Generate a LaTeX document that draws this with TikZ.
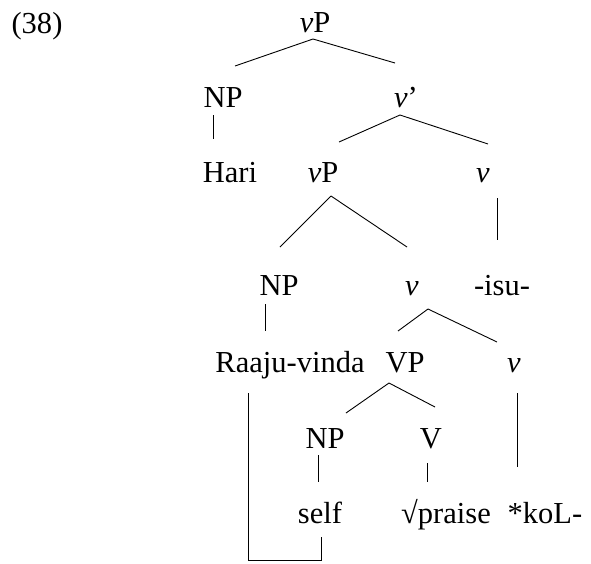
\documentclass[tikz,border=0pt]{standalone}
\usepackage{fontspec}
\setmainfont{Liberation Serif}
\begin{document}
\begin{tikzpicture}[
    x=1pt, y=1pt,
    etiqueta/.style={anchor=base, inner sep=0pt, font=\fontsize{30.5}{36}\selectfont},
    rama/.style={line width=0.9pt}
  ]
    \useasboundingbox (0,0) rectangle (591,-563);

    \node[etiqueta] (ejemplo) at (37,-33) {(38)};
    \node[etiqueta] (vpraiz) at (315,-32) {\textit{v}P};
    \node[etiqueta] (npsujeto) at (223,-107) {NP};
    \node[etiqueta] (vbarra) at (406,-107) {\textit{v}'};
    \node[etiqueta] (hari) at (230,-182) {Hari};
    \node[etiqueta] (vpbajo) at (323,-182) {\textit{v}P};
    \node[etiqueta] (vcausa) at (483,-182) {\textit{v}};
    \node[etiqueta] (npobjeto) at (279,-295) {NP};
    \node[etiqueta] (vmedio) at (412,-295) {\textit{v}};
    \node[etiqueta] (isu) at (502,-295) {-isu-};
    \node[etiqueta] (raaju) at (290,-372) {Raaju-vinda};
    \node[etiqueta] (vp) at (405,-372) {VP};
    \node[etiqueta] (vbajo) at (514,-372) {\textit{v}};
    \node[etiqueta] (npself) at (325,-448) {NP};
    \node[etiqueta] (verbo) at (431,-448) {V};
    \node[etiqueta] (self) at (320,-523) {self};
    \node[etiqueta] (praise) at (446,-523) {√praise};
    \node[etiqueta] (kol) at (545,-523) {*koL-};

    \draw[rama] ([shift={(-2,-7)}]vpraiz.base) -- ([shift={(12,41)}]npsujeto.base);
    \draw[rama] ([shift={(-2,-7)}]vpraiz.base) -- ([shift={(-11,44)}]vbarra.base);
    \draw[rama] ([shift={(-10,-8)}]npsujeto.base) -- ([shift={(-17,43)}]hari.base);
    \draw[rama] ([shift={(-6,-8)}]vbarra.base) -- ([shift={(16,40)}]vpbajo.base);
    \draw[rama] ([shift={(-6,-8)}]vbarra.base) -- ([shift={(5,38)}]vcausa.base);
    \draw[rama] ([shift={(8,-14)}]vpbajo.base) -- ([shift={(1,48)}]npobjeto.base);
    \draw[rama] ([shift={(8,-14)}]vpbajo.base) -- ([shift={(-5,48)}]vmedio.base);
    \draw[rama] ([shift={(14,-16)}]vcausa.base) -- ([shift={(-5,55)}]isu.base);
    \draw[rama] ([shift={(-14,-9)}]npobjeto.base) -- ([shift={(-25,41)}]raaju.base);
    \draw[rama] ([shift={(16,-14)}]vmedio.base) -- ([shift={(-7,41)}]vp.base);
    \draw[rama] ([shift={(16,-14)}]vmedio.base) -- ([shift={(-17,30)}]vbajo.base);
    \draw[rama] ([shift={(-16,-11)}]vp.base) -- ([shift={(21,35)}]npself.base);
    \draw[rama] ([shift={(-16,-11)}]vp.base) -- ([shift={(4,41)}]verbo.base);
    \draw[rama] ([shift={(3,-21)}]vbajo.base) -- ([shift={(-28,56)}]kol.base);
    \draw[rama] ([shift={(-7,-7)}]npself.base) -- ([shift={(-2,41)}]self.base);
    \draw[rama] ([shift={(-4,-15)}]verbo.base) -- ([shift={(-19,41)}]praise.base);

    % ligadura entre el antecedente y self
    \draw[rama] ([shift={(-42,-21)}]raaju.base) |- (321,-560) -- ([shift={(1,-14)}]self.base);
  \end{tikzpicture}
\end{document}
